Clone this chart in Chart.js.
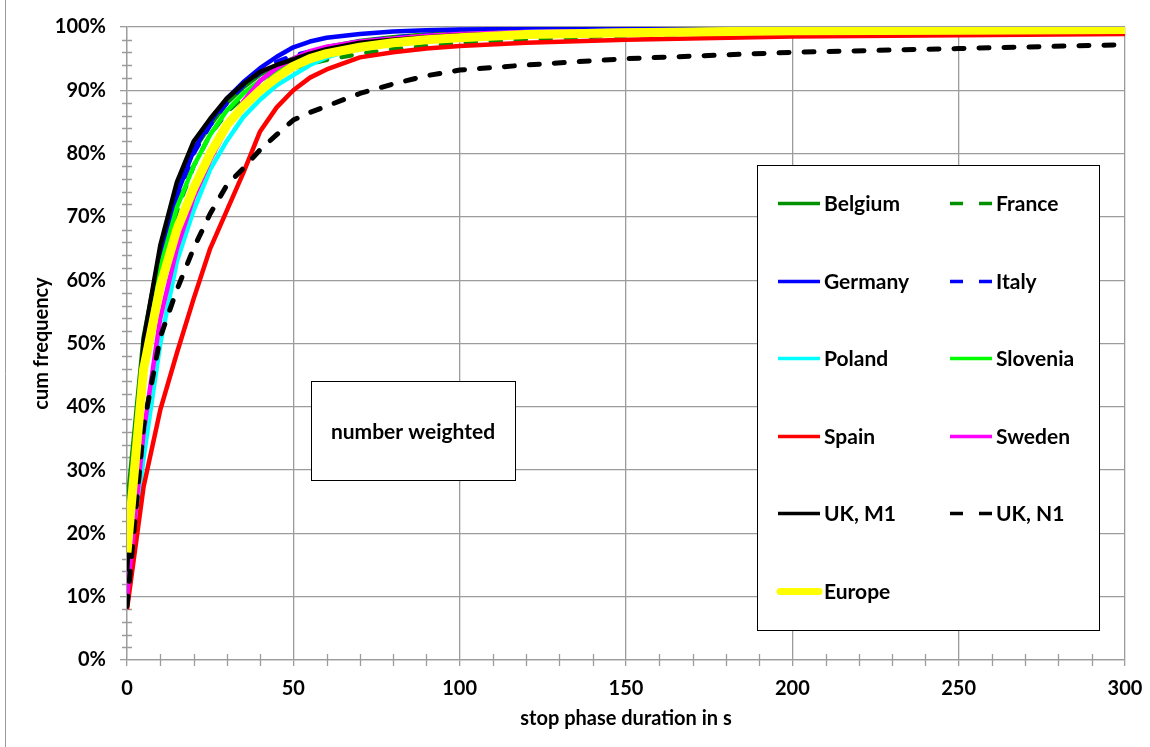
<!DOCTYPE html>
<html>
<head>
<meta charset="utf-8">
<title>cum frequency of stop phase duration</title>
<script src="https://cdn.jsdelivr.net/npm/chart.js@4.4.1/dist/chart.umd.min.js"></script>
<style>
  html, body { margin: 0; padding: 0; background: #fff; }
  #wrap { width: 1150px; height: 747px; }
</style>
</head>
<body>
<div id="wrap"><canvas id="cumChart" width="1150" height="747"></canvas></div>
<script>
// stop phase duration in s
const seconds = [0, 5, 10, 15, 20, 25, 30, 35, 40, 45, 50, 55, 60, 70, 80, 90, 100, 120, 150, 200, 250, 300];

// cumulative frequency in %, one list per country
const belgium  = [24, 51, 64.5, 74, 80.5, 84.5, 88, 90.5, 92.5, 94, 95, 96, 96.8, 97.8, 98.4, 98.8, 99, 99.3, 99.5, 99.7, 99.8, 99.8];
const france   = [15, 45, 61, 71, 78, 83, 86.5, 89, 91, 92.5, 93.5, 94.2, 94.8, 95.8, 96.5, 97, 97.5, 98, 98.7, 99.2, 99.5, 99.7];
const germany  = [13, 47, 63, 73.5, 80.5, 85, 88.7, 91.3, 93.5, 95.3, 96.8, 97.7, 98.3, 98.9, 99.3, 99.5, 99.6, 99.7, 99.8, 99.9, 99.9, 99.9];
const italy    = [14, 45, 62, 73, 80, 84.5, 88, 90.8, 92.8, 94.5, 95.5, 96.1, 96.8, 97.7, 98.3, 98.7, 99, 99.3, 99.5, 99.7, 99.8, 99.8];
const poland   = [11, 32, 50, 63, 71, 77.5, 82, 85.8, 88.5, 90.8, 92.4, 94, 95.2, 96.8, 97.8, 98.4, 98.8, 99.2, 99.4, 99.6, 99.7, 99.8];
const slovenia = [20, 48, 62, 71.5, 78, 83, 86.8, 89.5, 91.5, 93.2, 94.5, 95.5, 96.3, 97.4, 98, 98.4, 98.7, 99.1, 99.4, 99.6, 99.7, 99.8];
const spain    = [8, 27.4, 39.5, 48.5, 57, 65, 71, 77, 83.5, 87.3, 90, 92, 93.3, 95.2, 96, 96.6, 97, 97.5, 98, 98.5, 98.7, 98.9];
const sweden   = [10, 36, 54, 65, 73, 79, 84, 88.3, 91.5, 93.5, 95, 96.2, 96.9, 97.7, 98.2, 98.6, 98.9, 99.2, 99.4, 99.6, 99.7, 99.8];
const ukM1     = [14, 50.5, 65.5, 75.5, 81.9, 85.5, 88.7, 91, 92.9, 94, 94.9, 95.8, 96.5, 97.5, 98, 98.4, 98.7, 99, 99.3, 99.5, 99.6, 99.7];
const ukN1     = [8.5, 37, 51, 58.5, 65, 70.5, 75, 77.7, 80.6, 83, 85.3, 86.5, 87.5, 89.5, 91, 92.3, 93.2, 94, 95, 96, 96.6, 97.2];
const europe   = [17, 46, 59, 68, 74.5, 80, 84.5, 87.5, 90, 92, 93.8, 95, 95.8, 96.8, 97.5, 98, 98.3, 98.8, 99.1, 99.4, 99.5, 99.6];

const FONT = 'Lato, "Open Sans", sans-serif';
const GRID = '#9c9c9c';
const DASH = [10, 15];

function series(label, values, color, width, dashed) {
    return {
        label: label,
        data: seconds.map((s, i) => ({ x: s, y: values[i] })),
        borderColor: color,
        backgroundColor: color,
        borderWidth: width,
        borderDash: dashed ? DASH : [],
        borderCapStyle: dashed ? 'round' : 'butt',
        borderJoinStyle: 'round',
        pointRadius: 0,
        tension: 0,
        fill: false
    };
}

const datasets = [
    series('Belgium', belgium, '#009000', 4.5, false),
    series('France', france, '#009000', 4.5, true),
    series('Germany', germany, '#0000ff', 4.5, false),
    series('Italy', italy, '#0000ff', 4.5, true),
    series('Poland', poland, '#00ffff', 4.5, false),
    series('Slovenia', slovenia, '#00ff00', 4.5, false),
    series('Spain', spain, '#ff0000', 4.5, false),
    series('Sweden', sweden, '#ff00ff', 4.5, false),
    series('UK, M1', ukM1, '#000000', 4.5, false),
    series('UK, N1', ukN1, '#000000', 5, true),
    series('Europe', europe, '#ffff00', 9, false)
];
// later series are painted over earlier ones
datasets.forEach((d, i) => { d.order = datasets.length - i; });

// white page, frame line on the left, minor ticks on both axes
const framePlugin = {
    id: 'frame',
    beforeDraw(chart) {
        const ctx = chart.ctx;
        ctx.save();
        ctx.fillStyle = '#fff';
        ctx.fillRect(0, 0, chart.width, chart.height);
        ctx.strokeStyle = '#9a9a9a';
        ctx.lineWidth = 1;
        ctx.beginPath();
        ctx.moveTo(5.5, 0);
        ctx.lineTo(5.5, chart.height);
        ctx.stroke();
        ctx.restore();
    },
    beforeDatasetsDraw(chart) {
        const ctx = chart.ctx;
        const xs = chart.scales.x, ys = chart.scales.y;
        const area = chart.chartArea;
        ctx.save();
        ctx.strokeStyle = GRID;
        ctx.lineWidth = 1.3;
        ctx.beginPath();
        for (let v = 10; v < 300; v += 10) {
            if (v % 50 === 0) continue;
            const px = Math.round(xs.getPixelForValue(v)) + 0.5;
            ctx.moveTo(px, area.bottom - 6);
            ctx.lineTo(px, area.bottom + 6);
        }
        for (let v = 2; v < 100; v += 2) {
            if (v % 10 === 0) continue;
            const py = Math.round(ys.getPixelForValue(v)) + 0.5;
            ctx.moveTo(area.left - 5, py);
            ctx.lineTo(area.left + 5, py);
        }
        ctx.stroke();
        ctx.restore();
    }
};

// boxed legend in two columns plus the "number weighted" note
const legendPlugin = {
    id: 'boxLegend',
    afterDatasetsDraw(chart) {
        const ctx = chart.ctx;
        ctx.save();

        ctx.fillStyle = '#fff';
        ctx.fillRect(757, 165, 342, 465);
        ctx.strokeStyle = '#000';
        ctx.lineWidth = 1;
        ctx.strokeRect(757.5, 165.5, 342, 465);

        ctx.font = 'bold 21px ' + FONT;
        ctx.textBaseline = 'middle';
        ctx.textAlign = 'left';
        chart.data.datasets.forEach((d, i) => {
            const col = i % 2, row = Math.floor(i / 2);
            const x0 = col ? 950 : 778;
            const y = Math.round(203 + row * 77.6) + 0.5;
            const wide = d.borderWidth > 6;
            ctx.strokeStyle = d.borderColor;
            ctx.lineWidth = wide ? 7 : 3.5;
            ctx.lineCap = wide ? 'round' : 'butt';
            ctx.setLineDash(d.borderDash.length ? [13, 16] : []);
            ctx.beginPath();
            ctx.moveTo(wide ? x0 + 2 : x0, y);
            ctx.lineTo(wide ? x0 + 41 : x0 + 42, y);
            ctx.stroke();
            ctx.setLineDash([]);
            ctx.fillStyle = '#000';
            ctx.fillText(d.label, x0 + 46, y + 1);
        });

        ctx.fillStyle = '#fff';
        ctx.fillRect(311, 381, 204, 99);
        ctx.strokeStyle = '#000';
        ctx.lineWidth = 1;
        ctx.strokeRect(311.5, 381.5, 204, 99);
        ctx.fillStyle = '#000';
        ctx.textAlign = 'center';
        ctx.font = 'bold 21px ' + FONT;
        ctx.fillText('number weighted', 413, 432);
        ctx.restore();
    }
};

new Chart(document.getElementById('cumChart'), {
    type: 'line',
    data: { datasets: datasets },
    plugins: [framePlugin, legendPlugin],
    options: {
        responsive: false,
        animation: false,
        devicePixelRatio: 1,
        layout: { padding: { left: 0, top: 27, right: 25, bottom: 0 } },
        plugins: {
            legend: { display: false },
            tooltip: { enabled: false }
        },
        scales: {
            x: {
                type: 'linear',
                min: 0,
                max: 300,
                ticks: {
                    stepSize: 50,
                    padding: 11,
                    color: '#000',
                    font: { family: FONT, size: 20, weight: 'bold' }
                },
                grid: { color: GRID, lineWidth: 1.3, tickLength: 6 },
                border: { color: GRID, width: 1.3 },
                title: {
                    display: true,
                    text: 'stop phase duration in s',
                    color: '#000',
                    font: { family: FONT, size: 20, weight: 'bold' },
                    padding: { top: 0, bottom: 16 }
                },
                afterFit(scale) {
                    scale.height = 87;
                    // keep the plot edge fixed; the "300" label may hang past it
                    scale.paddingLeft = 0;
                    scale.paddingRight = 0;
                }
            },
            y: {
                min: 0,
                max: 100,
                ticks: {
                    stepSize: 10,
                    padding: 14,
                    color: '#000',
                    font: { family: FONT, size: 20, weight: 'bold' },
                    callback: v => v + '%'
                },
                grid: { color: GRID, lineWidth: 1.3, tickLength: 7 },
                border: { color: GRID, width: 1.3 },
                title: {
                    display: true,
                    text: 'cum frequency',
                    color: '#000',
                    font: { family: FONT, size: 20, weight: 'bold' },
                    padding: { top: 30, bottom: 0 }
                },
                afterFit(scale) {
                    scale.width = 127;
                    scale.paddingTop = 0;
                    scale.paddingBottom = 0;
                }
            }
        }
    }
});
</script>
</body>
</html>
